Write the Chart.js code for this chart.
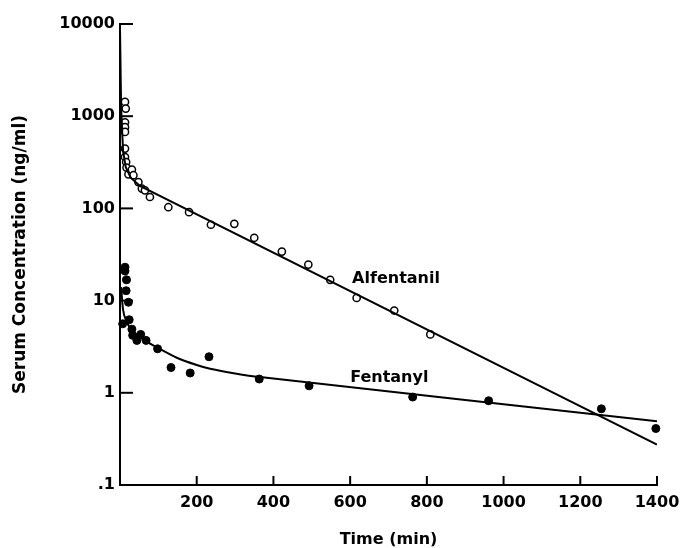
<!DOCTYPE html>
<html>
<head>
<meta charset="utf-8">
<script src="https://cdn.jsdelivr.net/npm/chart.js@4.4.1/dist/chart.umd.min.js"></script>
<style>
  html, body { margin: 0; padding: 0; background: #fff; }
  #wrap { width: 681px; height: 548px; }
</style>
</head>
<body>
<div id="wrap"><canvas id="chart" width="681" height="548"></canvas></div>
<script>
// tick values and labels
const xTicks = [200, 400, 600, 800, 1000, 1200, 1400];
const xTickLabels = ['200', '400', '600', '800', '1000', '1200', '1400'];
const yTicks = [0.1, 1, 10, 100, 1000, 10000];
const yTickLabels = ['.1', '1', '10', '100', '1000', '10000'];

// alfentanil measurements (open circles)
const alfTime = [13, 15, 13, 13, 13, 13, 13, 16, 17, 22, 31, 35, 48, 57, 65, 78, 126, 180, 237, 298, 350, 422, 491, 548, 617, 715, 809];
const alfConc = [1430, 1210, 860, 760, 675, 445, 361, 318, 277, 234, 264, 229, 193, 164, 157, 133, 103, 91, 66.5, 68, 48, 34, 24.6, 16.8, 10.7, 7.8, 4.3];

// fentanyl measurements (filled circles)
const fenTime = [13, 13, 17, 16, 22, 7, 24, 31, 33, 44, 54, 68, 98, 133, 183, 232, 363, 493, 763, 961, 1255, 1397];
const fenConc = [23, 21, 16.8, 12.8, 9.6, 5.6, 6.2, 4.9, 4.2, 3.7, 4.3, 3.7, 3.0, 1.88, 1.64, 2.46, 1.41, 1.19, 0.9, 0.82, 0.67, 0.41];

// fitted curves
const alfFitTime = [0, 3, 8, 15, 28, 52, 1400];
const alfFitConc = [9000, 1200, 420, 280, 215, 175, 0.275];
const fenFitTime = [3, 8, 15, 30, 60, 100, 148, 200, 235, 300, 365, 1400];
const fenFitConc = [14, 8, 6.2, 4.8, 3.8, 3.05, 2.4, 2.0, 1.82, 1.62, 1.48, 0.49];

// curve labels
const curveLabels = [
    { text: 'Alfentanil', t: 605, c: 17.1 },
    { text: 'Fentanyl', t: 600, c: 1.45 }
];

const FONT = '"DejaVu Sans", sans-serif';
const pts = (xs, ys) => xs.map((x, i) => ({ x: x, y: ys[i] }));

// tick marks point into the plot, and the curve names sit beside the lines
const innerTicks = {
    id: 'innerTicks',
    afterDatasetsDraw(chart) {
        const { ctx, chartArea } = chart;
        const x = chart.scales.x;
        const y = chart.scales.y;
        ctx.save();
        ctx.strokeStyle = '#000';
        ctx.lineWidth = 2;
        yTicks.forEach(v => {
            const py = y.getPixelForValue(v);
            ctx.beginPath();
            ctx.moveTo(chartArea.left, py);
            ctx.lineTo(chartArea.left + 13, py);
            ctx.stroke();
        });
        xTicks.forEach(v => {
            const px = x.getPixelForValue(v);
            ctx.beginPath();
            ctx.moveTo(px, chartArea.bottom);
            ctx.lineTo(px, chartArea.bottom - 9);
            ctx.stroke();
        });
        ctx.fillStyle = '#000';
        ctx.font = 'bold 16px ' + FONT;
        ctx.textAlign = 'left';
        ctx.textBaseline = 'middle';
        curveLabels.forEach(l => {
            ctx.fillText(l.text, x.getPixelForValue(l.t), y.getPixelForValue(l.c));
        });
        ctx.restore();
    }
};

new Chart(document.getElementById('chart').getContext('2d'), {
    type: 'scatter',
    data: {
        datasets: [
            {
                label: 'Alfentanil fit',
                data: pts(alfFitTime, alfFitConc),
                showLine: true,
                borderColor: '#000',
                borderWidth: 2,
                pointRadius: 0,
                tension: 0
            },
            {
                label: 'Fentanyl fit',
                data: pts(fenFitTime, fenFitConc),
                showLine: true,
                borderColor: '#000',
                borderWidth: 2,
                pointRadius: 0,
                tension: 0.3
            },
            {
                label: 'Alfentanil',
                data: pts(alfTime, alfConc),
                pointRadius: 3.6,
                pointBackgroundColor: '#fff',
                pointBorderColor: '#000',
                pointBorderWidth: 1.5,
                clip: false
            },
            {
                label: 'Fentanyl',
                data: pts(fenTime, fenConc),
                pointRadius: 4,
                pointBackgroundColor: '#000',
                pointBorderColor: '#000',
                pointBorderWidth: 1,
                clip: false
            }
        ]
    },
    options: {
        responsive: false,
        animation: false,
        layout: { padding: { top: 24, right: 24, left: 0, bottom: 0 } },
        plugins: {
            legend: { display: false },
            tooltip: { enabled: false }
        },
        scales: {
            x: {
                type: 'linear',
                min: 0,
                max: 1400,
                afterFit: s => { s.height = 63; s.paddingLeft = 0; s.paddingRight = 0; },
                afterBuildTicks: s => { s.ticks = xTicks.map(v => ({ value: v })); },
                grid: { display: false, drawTicks: false },
                border: { display: true, color: '#000', width: 2 },
                ticks: {
                    color: '#000',
                    padding: 8,
                    autoSkip: false,
                    maxRotation: 0,
                    font: { family: FONT, size: 16, weight: 'bold' },
                    callback: (v, i) => xTickLabels[i]
                },
                title: {
                    display: true,
                    text: 'Time (min)',
                    color: '#000',
                    padding: { top: 4, bottom: 0 },
                    font: { family: FONT, size: 16, weight: 'bold', lineHeight: 1 }
                }
            },
            y: {
                type: 'logarithmic',
                min: 0.1,
                max: 10000,
                afterFit: s => { s.width = 120; s.paddingTop = 0; s.paddingBottom = 0; },
                afterBuildTicks: s => { s.ticks = yTicks.map(v => ({ value: v })); },
                grid: { display: false, drawTicks: false },
                border: { display: true, color: '#000', width: 2 },
                ticks: {
                    color: '#000',
                    padding: 5,
                    autoSkip: false,
                    font: { family: FONT, size: 16, weight: 'bold' },
                    callback: (v, i) => yTickLabels[i]
                },
                title: {
                    display: true,
                    text: 'Serum Concentration (ng/ml)',
                    color: '#000',
                    padding: { top: 12, bottom: 0 },
                    font: { family: FONT, size: 17, weight: 'bold', lineHeight: 1 }
                }
            }
        }
    },
    plugins: [innerTicks]
});
</script>
</body>
</html>
